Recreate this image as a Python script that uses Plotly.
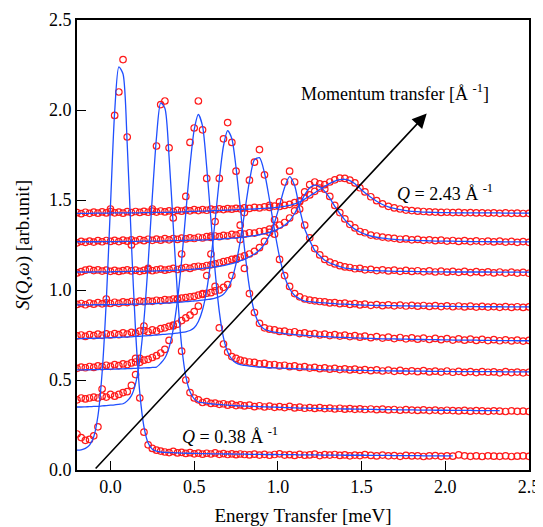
import plotly.graph_objects as go

# Energy transfer grid (meV)
energy = [
    -0.200, -0.175, -0.150, -0.125, -0.100, -0.075, -0.050, -0.025, 0.000, 0.025,
    0.050, 0.075, 0.100, 0.125, 0.150, 0.175, 0.200, 0.225, 0.250, 0.275,
    0.300, 0.325, 0.350, 0.375, 0.400, 0.425, 0.450, 0.475, 0.500, 0.525,
    0.550, 0.575, 0.600, 0.625, 0.650, 0.675, 0.700, 0.725, 0.750, 0.775,
    0.800, 0.830, 0.860, 0.890, 0.920, 0.950, 0.980, 1.010, 1.040, 1.070,
    1.100, 1.130, 1.160, 1.190, 1.220, 1.250, 1.280, 1.310, 1.340, 1.370,
    1.400, 1.430, 1.460, 1.490, 1.520, 1.555, 1.590, 1.625, 1.660, 1.695,
    1.730, 1.765, 1.800, 1.835, 1.870, 1.905, 1.940, 1.975, 2.010, 2.045,
    2.080, 2.115, 2.150, 2.185, 2.220, 2.255, 2.290, 2.325, 2.360, 2.395,
    2.430, 2.465, 2.500]

N = None

# Q = 0.38 A^-1 (lowest)
data1 = [
    0.200, 0.180, 0.165, 0.170, 0.190, 0.240, 0.450, 0.950, 1.450, 1.970,
    2.100, 2.280, 1.850, 1.250, 0.620, 0.400, 0.210, 0.140, 0.120, 0.110,
    0.105, 0.100, 0.097, 0.103, 0.095, 0.098, 0.092, 0.096, 0.090, 0.094,
    0.088, 0.093, 0.089, 0.095, 0.087, 0.091, 0.086, 0.090, 0.085, 0.089,
    0.086, 0.084, 0.088, 0.083, 0.087, 0.082, 0.086, 0.090, 0.083, 0.085,
    0.081, 0.087, 0.082, 0.084, 0.088, 0.080, 0.085, 0.083, 0.086, 0.081,
    0.084, 0.079, 0.083, 0.080, 0.085, 0.081, 0.078, 0.083, 0.079, 0.080,
    0.076, 0.081, 0.078, 0.079, 0.075, 0.078, 0.080, 0.076, 0.078, 0.077,
    0.084, 0.079, 0.076, 0.078, 0.075, 0.079, 0.077, 0.076, 0.078, 0.075,
    0.077, 0.078, 0.076]
fit1 = [
    0.110, 0.112, 0.120, 0.138, 0.185, 0.300, 0.540, 0.940, 1.470, 1.990,
    2.240, 2.200, 1.810, 1.260, 0.770, 0.430, 0.240, 0.150, 0.115, 0.105,
    0.100, 0.098, 0.097, 0.096, 0.095, 0.094, 0.093, 0.093, 0.092, 0.092,
    0.091, 0.091, 0.090, 0.090, 0.090, 0.089, 0.089, 0.089, 0.088, 0.088,
    0.088, 0.087, 0.087, 0.087, 0.086, 0.086, 0.086, 0.085, 0.085, 0.085,
    0.085, 0.084, 0.084, 0.084, 0.084, 0.083, 0.083, 0.083, 0.083, 0.083,
    0.082, 0.082, 0.082, 0.082, 0.082, 0.081, 0.081, 0.081, 0.081, 0.080,
    0.080, 0.080, 0.080, 0.080, 0.079, 0.079, 0.079, 0.079, 0.079, 0.079,
    N, N, N, N, N, N, N, N, N, N,
    N, N, N]

data2 = [
    0.390, 0.400, 0.395, 0.400, 0.405, 0.400, 0.410, 0.405, 0.420, 0.410,
    0.420, 0.430, 0.435, 0.470, 0.530, 0.620, 0.800, 1.120, 1.450, 1.800,
    2.030, 2.050, 1.790, 1.400, 0.950, 0.660, 0.500, 0.430, 0.400, 0.390,
    0.375, 0.380, 0.370, 0.372, 0.365, 0.368, 0.360, 0.366, 0.358, 0.362,
    0.356, 0.360, 0.352, 0.357, 0.350, 0.355, 0.348, 0.352, 0.347, 0.353,
    0.345, 0.349, 0.343, 0.347, 0.342, 0.346, 0.341, 0.344, 0.339, 0.343,
    0.338, 0.341, 0.337, 0.340, 0.336, 0.339, 0.335, 0.338, 0.334, 0.336,
    0.332, 0.335, 0.333, 0.331, 0.334, 0.330, 0.333, 0.329, 0.332, 0.330,
    0.328, 0.331, 0.327, 0.330, 0.328, 0.326, 0.329, 0.327, 0.325, 0.328,
    0.326, 0.327, 0.325]
fit2 = [
    0.350, 0.350, 0.351, 0.352, 0.353, 0.354, 0.356, 0.358, 0.360, 0.362,
    0.365, 0.368, 0.384, 0.413, 0.480, 0.611, 0.833, 1.150, 1.520, 1.850,
    2.040, 2.010, 1.740, 1.355, 0.980, 0.690, 0.520, 0.435, 0.395, 0.377,
    0.374, 0.371, 0.368, 0.366, 0.364, 0.362, 0.360, 0.359, 0.357, 0.356,
    0.355, 0.354, 0.353, 0.352, 0.351, 0.350, 0.349, 0.348, 0.347, 0.346,
    0.345, 0.344, 0.344, 0.343, 0.342, 0.342, 0.341, 0.341, 0.340, 0.340,
    0.339, 0.339, 0.338, 0.338, 0.337, 0.337, 0.336, 0.336, 0.335, 0.335,
    0.334, 0.334, 0.334, 0.333, 0.333, 0.333, 0.332, 0.332, 0.332, 0.331,
    0.331, 0.331, 0.331, 0.330, 0.330, 0.330, 0.330, 0.330, N, N,
    N, N, N]

data3 = [
    0.565, 0.572, 0.568, 0.575, 0.570, 0.578, 0.574, 0.582, 0.576, 0.585,
    0.580, 0.590, 0.586, 0.595, 0.600, 0.598, 0.610, 0.615, 0.625, 0.635,
    0.650, 0.670, 0.720, 0.800, 0.950, 1.200, 1.520, 1.820, 1.900, 2.050,
    1.890, 1.620, 1.300, 1.020, 0.790, 0.700, 0.655, 0.630, 0.620, 0.610,
    0.605, 0.600, 0.598, 0.590, 0.592, 0.584, 0.586, 0.578, 0.582, 0.574,
    0.578, 0.570, 0.574, 0.566, 0.570, 0.563, 0.567, 0.560, 0.565, 0.558,
    0.562, 0.556, 0.560, 0.554, 0.558, 0.552, 0.556, 0.550, 0.555, 0.548,
    0.553, 0.547, 0.551, 0.546, 0.552, 0.545, 0.549, 0.544, 0.550, 0.543,
    0.548, 0.542, 0.547, 0.541, 0.546, 0.543, 0.545, 0.540, 0.546, 0.541,
    0.544, 0.540, 0.543]
fit3 = [
    0.556, 0.556, 0.557, 0.557, 0.558, 0.558, 0.559, 0.559, 0.560, 0.560,
    0.561, 0.562, 0.563, 0.564, 0.565, 0.566, 0.567, 0.568, 0.570, 0.572,
    0.593, 0.622, 0.680, 0.782, 0.942, 1.163, 1.430, 1.690, 1.890, 1.975,
    1.910, 1.680, 1.390, 1.105, 0.880, 0.735, 0.655, 0.615, 0.595, 0.585,
    0.581, 0.577, 0.574, 0.572, 0.570, 0.568, 0.567, 0.566, 0.565, 0.564,
    0.563, 0.562, 0.561, 0.560, 0.559, 0.558, 0.557, 0.556, 0.556, 0.555,
    0.555, 0.554, 0.554, 0.553, 0.553, 0.552, 0.552, 0.551, 0.551, 0.550,
    0.550, 0.550, 0.549, 0.549, 0.549, 0.548, 0.548, 0.548, 0.548, 0.547,
    0.547, 0.547, 0.547, 0.546, 0.546, 0.546, 0.546, 0.546, 0.545, 0.545,
    0.545, 0.545, 0.545]

data4 = [
    0.745, 0.750, 0.742, 0.752, 0.746, 0.755, 0.748, 0.756, 0.750, 0.758,
    0.752, 0.762, 0.755, 0.765, 0.760, 0.772, 0.775, 0.768, 0.778, 0.772,
    0.785, 0.790, 0.798, 0.805, 0.810, 0.830, 0.845, 0.860, 0.880, 0.910,
    0.980, 1.080, 1.200, 1.380, 1.620, 1.840, 1.930, 1.820, 1.660, 1.360,
    1.120, 0.980, 0.875, 0.815, 0.790, 0.782, 0.778, 0.770, 0.772, 0.764,
    0.768, 0.758, 0.762, 0.754, 0.758, 0.750, 0.755, 0.747, 0.752, 0.744,
    0.749, 0.741, 0.746, 0.738, 0.744, 0.735, 0.741, 0.733, 0.738, 0.730,
    0.736, 0.729, 0.734, 0.727, 0.733, 0.725, 0.731, 0.724, 0.730, 0.722,
    0.728, 0.721, 0.727, 0.720, 0.726, 0.719, 0.724, 0.718, 0.723, 0.717,
    0.722, 0.716, 0.720]
fit4 = [
    0.730, 0.730, 0.731, 0.731, 0.732, 0.732, 0.733, 0.734, 0.735, 0.736,
    0.737, 0.738, 0.739, 0.740, 0.742, 0.743, 0.745, 0.746, 0.748, 0.750,
    0.752, 0.754, 0.756, 0.758, 0.761, 0.764, 0.768, 0.775, 0.790, 0.825,
    0.890, 1.000, 1.170, 1.385, 1.614, 1.800, 1.885, 1.840, 1.680, 1.460,
    1.234, 1.015, 0.878, 0.809, 0.782, 0.772, 0.766, 0.762, 0.758, 0.755,
    0.752, 0.750, 0.748, 0.746, 0.744, 0.742, 0.741, 0.740, 0.738, 0.737,
    0.736, 0.735, 0.734, 0.733, 0.732, 0.731, 0.730, 0.729, 0.729, 0.728,
    0.727, 0.727, 0.726, 0.725, 0.725, 0.724, 0.724, 0.723, 0.723, 0.722,
    0.722, 0.722, 0.721, 0.721, 0.720, 0.720, 0.720, 0.719, 0.719, 0.719,
    0.718, 0.718, 0.718]

data5 = [
    0.920, 0.925, 0.918, 0.927, 0.921, 0.930, 0.923, 0.928, 0.925, 0.932,
    0.926, 0.934, 0.930, 0.936, 0.931, 0.938, 0.935, 0.940, 0.937, 0.943,
    0.940, 0.946, 0.944, 0.950, 0.948, 0.955, 0.958, 0.962, 0.965, 0.972,
    0.975, 0.982, 0.985, 0.995, 1.000, 1.015, 1.030, 1.080, 1.170, 1.280,
    1.430, 1.610, 1.710, 1.780, 1.640, 1.470, 1.310, 1.170, 1.080, 1.020,
    0.980, 0.962, 0.950, 0.944, 0.940, 0.936, 0.934, 0.928, 0.930, 0.924,
    0.927, 0.920, 0.924, 0.917, 0.921, 0.915, 0.919, 0.913, 0.917, 0.912,
    0.916, 0.911, 0.915, 0.910, 0.914, 0.909, 0.913, 0.908, 0.912, 0.907,
    0.911, 0.906, 0.910, 0.905, 0.909, 0.905, 0.908, 0.904, 0.908, 0.903,
    0.907, 0.903, 0.906]
fit5 = [
    0.917, 0.917, 0.917, 0.917, 0.918, 0.918, 0.918, 0.918, 0.919, 0.919,
    0.919, 0.920, 0.920, 0.921, 0.921, 0.922, 0.922, 0.923, 0.924, 0.925,
    0.926, 0.927, 0.928, 0.930, 0.931, 0.933, 0.935, 0.937, 0.939, 0.941,
    0.944, 0.947, 0.950, 0.955, 0.963, 0.977, 1.007, 1.060, 1.147, 1.271,
    1.423, 1.604, 1.724, 1.735, 1.650, 1.500, 1.332, 1.183, 1.075, 1.007,
    0.969, 0.951, 0.938, 0.935, 0.932, 0.930, 0.928, 0.926, 0.924, 0.922,
    0.921, 0.920, 0.918, 0.917, 0.916, 0.915, 0.914, 0.914, 0.913, 0.913,
    0.912, 0.912, 0.911, 0.911, 0.910, 0.910, 0.910, 0.909, 0.909, 0.909,
    0.908, 0.908, 0.908, 0.908, 0.907, 0.907, 0.907, 0.907, 0.906, 0.906,
    0.906, 0.906, 0.906]

data6 = [
    1.095, 1.102, 1.110, 1.115, 1.108, 1.112, 1.105, 1.110, 1.104, 1.109,
    1.103, 1.108, 1.112, 1.106, 1.110, 1.104, 1.109, 1.113, 1.107, 1.112,
    1.116, 1.110, 1.115, 1.120, 1.114, 1.120, 1.125, 1.120, 1.128, 1.132,
    1.128, 1.136, 1.140, 1.145, 1.150, 1.158, 1.162, 1.170, 1.175, 1.182,
    1.190, 1.200, 1.215, 1.235, 1.270, 1.320, 1.390, 1.490, 1.600, 1.660,
    1.600, 1.450, 1.360, 1.290, 1.230, 1.195, 1.170, 1.155, 1.145, 1.135,
    1.128, 1.125, 1.118, 1.120, 1.112, 1.115, 1.108, 1.112, 1.106, 1.110,
    1.104, 1.109, 1.103, 1.107, 1.101, 1.106, 1.100, 1.105, 1.099, 1.104,
    1.098, 1.103, 1.097, 1.102, 1.096, 1.101, 1.095, 1.100, 1.094, 1.099,
    1.094, 1.098, 1.093]
fit6 = [
    1.100, 1.100, 1.100, 1.100, 1.100, 1.101, 1.101, 1.101, 1.101, 1.102,
    1.102, 1.102, 1.103, 1.103, 1.103, 1.104, 1.104, 1.105, 1.105, 1.106,
    1.107, 1.107, 1.108, 1.109, 1.110, 1.111, 1.113, 1.114, 1.116, 1.118,
    1.120, 1.123, 1.126, 1.129, 1.132, 1.136, 1.141, 1.147, 1.154, 1.162,
    1.170, 1.185, 1.200, 1.222, 1.255, 1.305, 1.375, 1.470, 1.570, 1.630,
    1.580, 1.450, 1.340, 1.275, 1.220, 1.190, 1.165, 1.150, 1.140, 1.130,
    1.122, 1.118, 1.115, 1.112, 1.110, 1.108, 1.107, 1.106, 1.105, 1.104,
    1.104, 1.103, 1.103, 1.102, 1.102, 1.101, 1.101, 1.101, 1.100, 1.100,
    1.100, 1.100, 1.100, 1.100, 1.100, 1.100, 1.099, 1.099, 1.099, 1.099,
    1.099, 1.099, 1.099]

data7 = [
    1.262, 1.270, 1.265, 1.272, 1.266, 1.274, 1.268, 1.275, 1.270, 1.276,
    1.269, 1.277, 1.271, 1.278, 1.272, 1.280, 1.274, 1.282, 1.276, 1.283,
    1.277, 1.285, 1.279, 1.286, 1.281, 1.288, 1.284, 1.290, 1.286, 1.293,
    1.289, 1.296, 1.292, 1.300, 1.296, 1.304, 1.300, 1.309, 1.305, 1.313,
    1.310, 1.318, 1.316, 1.325, 1.328, 1.338, 1.345, 1.360, 1.375, 1.400,
    1.440, 1.490, 1.545, 1.585, 1.600, 1.590, 1.560, 1.520, 1.470, 1.430,
    1.395, 1.365, 1.345, 1.325, 1.318, 1.305, 1.300, 1.294, 1.290, 1.287,
    1.282, 1.284, 1.279, 1.281, 1.276, 1.279, 1.274, 1.277, 1.272, 1.275,
    1.270, 1.274, 1.269, 1.273, 1.268, 1.272, 1.267, 1.271, 1.266, 1.270,
    1.265, 1.269, 1.265]
fit7 = [
    1.268, 1.268, 1.268, 1.268, 1.268, 1.268, 1.269, 1.269, 1.269, 1.269,
    1.269, 1.270, 1.270, 1.270, 1.270, 1.271, 1.271, 1.271, 1.272, 1.272,
    1.272, 1.273, 1.273, 1.274, 1.274, 1.275, 1.275, 1.276, 1.277, 1.277,
    1.278, 1.279, 1.280, 1.281, 1.282, 1.284, 1.286, 1.288, 1.290, 1.292,
    1.295, 1.298, 1.302, 1.307, 1.313, 1.320, 1.330, 1.343, 1.360, 1.385,
    1.425, 1.475, 1.528, 1.568, 1.583, 1.575, 1.548, 1.510, 1.465, 1.425,
    1.390, 1.360, 1.338, 1.322, 1.310, 1.300, 1.293, 1.288, 1.284, 1.281,
    1.279, 1.277, 1.276, 1.275, 1.274, 1.273, 1.272, 1.272, 1.271, 1.271,
    1.270, 1.270, 1.269, 1.269, 1.269, 1.268, 1.268, 1.268, 1.267, 1.267,
    1.267, 1.267, 1.267]

# Q = 2.43 A^-1 (top)
data8 = [
    1.430, 1.424, 1.432, 1.426, 1.433, 1.427, 1.434, 1.428, 1.435, 1.429,
    1.433, 1.427, 1.435, 1.430, 1.436, 1.431, 1.437, 1.432, 1.438, 1.433,
    1.439, 1.434, 1.440, 1.436, 1.442, 1.438, 1.444, 1.440, 1.446, 1.441,
    1.447, 1.443, 1.449, 1.445, 1.451, 1.447, 1.452, 1.449, 1.454, 1.451,
    1.456, 1.453, 1.459, 1.456, 1.462, 1.459, 1.466, 1.464, 1.470, 1.476,
    1.485, 1.495, 1.512, 1.528, 1.548, 1.566, 1.585, 1.600, 1.612, 1.622,
    1.620, 1.610, 1.595, 1.568, 1.545, 1.518, 1.496, 1.478, 1.465, 1.456,
    1.450, 1.444, 1.441, 1.438, 1.436, 1.434, 1.433, 1.431, 1.432, 1.430,
    1.431, 1.429, 1.430, 1.428, 1.429, 1.427, 1.429, 1.426, 1.428, 1.426,
    1.427, 1.425, 1.426]
fit8 = [
    1.426, 1.426, 1.426, 1.426, 1.427, 1.427, 1.427, 1.427, 1.428, 1.428,
    1.428, 1.428, 1.429, 1.429, 1.429, 1.429, 1.430, 1.430, 1.430, 1.431,
    1.431, 1.431, 1.432, 1.432, 1.433, 1.434, 1.435, 1.436, 1.437, 1.438,
    1.438, 1.439, 1.440, 1.441, 1.442, 1.443, 1.444, 1.445, 1.446, 1.447,
    1.448, 1.449, 1.450, 1.452, 1.454, 1.456, 1.458, 1.461, 1.465, 1.470,
    1.478, 1.490, 1.505, 1.522, 1.540, 1.558, 1.575, 1.592, 1.605, 1.613,
    1.615, 1.608, 1.590, 1.565, 1.540, 1.515, 1.493, 1.475, 1.462, 1.453,
    1.446, 1.441, 1.437, 1.435, 1.433, 1.432, 1.431, 1.430, 1.430, 1.429,
    1.429, 1.429, 1.428, 1.428, 1.428, 1.428, 1.428, 1.428, 1.427, 1.427,
    1.427, 1.427, 1.427]

data_sets = [data1, data2, data3, data4, data5, data6, data7, data8]
fit_sets = [fit1, fit2, fit3, fit4, fit5, fit6, fit7, fit8]

tick_vals = [0.0, 0.5, 1.0, 1.5, 2.0, 2.5]
tick_text = ["0.0", "0.5", "1.0", "1.5", "2.0", "2.5"]

FONT = "Liberation Serif, Times New Roman, DejaVu Serif, serif"
RED = "#ff1a1a"
BLUE = "#1f4fff"

fig = go.Figure()
for d in data_sets:
    fig.add_trace(go.Scatter(
        x=energy, y=d, mode="markers", showlegend=False,
        marker=dict(symbol="circle-open", size=6.5, color=RED,
                    line=dict(width=1.2, color=RED))))
for f in fit_sets:
    fig.add_trace(go.Scatter(
        x=energy, y=f, mode="lines", showlegend=False, connectgaps=False,
        line=dict(color=BLUE, width=1.3, shape="spline", smoothing=0.7)))

axis_common = dict(
    showgrid=False, zeroline=False, showline=True, linecolor="black",
    linewidth=1.6, mirror=True, ticks="inside", ticklen=9, tickwidth=1.2,
    tickcolor="black", tickvals=tick_vals, ticktext=tick_text,
    tickfont=dict(family=FONT, size=18, color="black"), automargin=False)

fig.update_xaxes(range=[-0.2, 2.5],
                 title=dict(text="Energy Transfer [meV]",
                            font=dict(family=FONT, size=19, color="black"),
                            standoff=12),
                 **axis_common)
fig.update_yaxes(range=[0, 2.5],
                 title=dict(text="<i>S</i>(<i>Q</i>,<i>ω</i>) [arb.unit]",
                            font=dict(family=FONT, size=19, color="black"),
                            standoff=14),
                 **axis_common)

fig.add_annotation(x=1.889, y=1.98, ax=-0.097, ay=0.0,
                   xref="x", yref="y", axref="x", ayref="y",
                   text="", showarrow=True, arrowhead=2, arrowsize=1.8,
                   arrowwidth=1.6, arrowcolor="black", standoff=0)
fig.add_annotation(x=1.125, y=2.098, xref="x", yref="y", showarrow=False,
                   xanchor="left", yanchor="middle",
                   text="Momentum transfer [Å <sup>-1</sup>]",
                   font=dict(family=FONT, size=18, color="black"))
fig.add_annotation(x=1.70, y=1.539, xref="x", yref="y", showarrow=False,
                   xanchor="left", yanchor="middle",
                   text="<i>Q</i> = 2.43 Å <sup>-1</sup>",
                   font=dict(family=FONT, size=18, color="black"))
fig.add_annotation(x=0.415, y=0.194, xref="x", yref="y", showarrow=False,
                   xanchor="left", yanchor="middle",
                   text="<i>Q</i> = 0.38 Å <sup>-1</sup>",
                   font=dict(family=FONT, size=18, color="black"))

# page body adds an 8 px margin, so the figure is 8 px smaller each way
fig.update_layout(width=535, height=519,
                  margin=dict(l=69, r=14, t=12, b=57),
                  paper_bgcolor="white", plot_bgcolor="white",
                  font=dict(family=FONT, color="black"))

fig.write_html("out.html")
